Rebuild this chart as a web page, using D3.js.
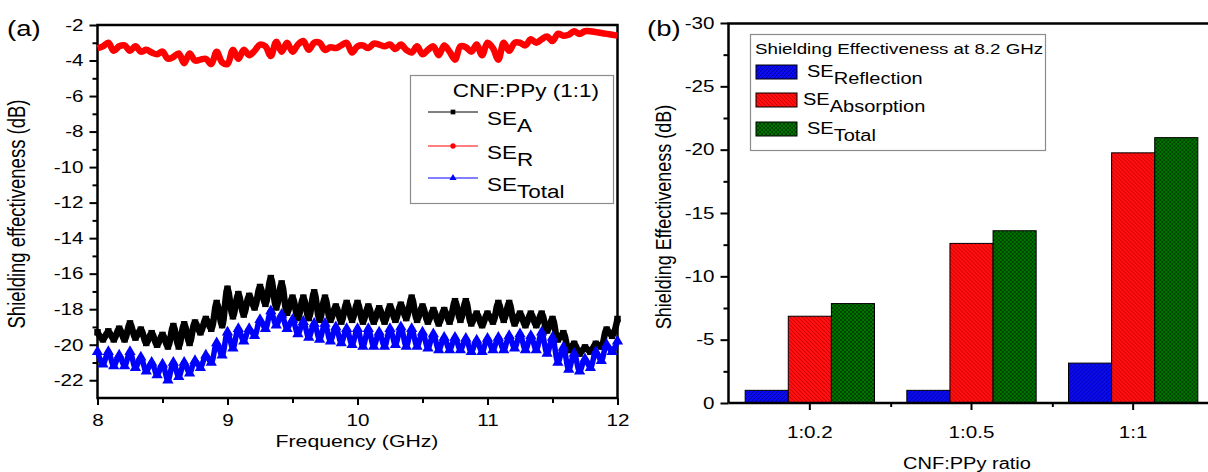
<!DOCTYPE html>
<html>
<head>
<meta charset="utf-8">
<script src="https://cdn.jsdelivr.net/npm/d3@7"></script>
<style>
body { margin: 0; background: #fff; }
svg text { font-family: "Liberation Sans", Arial, sans-serif; fill: #000; }
</style>
</head>
<body>
<svg id="chart"></svg>
<script>
const w = 1208, h = 472;
const sx = 1.25; // the figure text is slightly wide

// (a) SE vs frequency, one reading every 1/24 GHz from 8 to 12 GHz
const freqStart = 8, freqStep = 1 / 24;
const seA = [
  -19.3, -19.7, -19.25, -19.7, -19.1, -19.7, -18.8, -19.6, -19.15, -19.9, -19.35, -20.0,
  -19.45, -20.1, -18.95, -20.1, -18.85, -19.9, -18.75, -19.3, -18.55, -19.1, -17.65, -18.9,
  -16.85, -18.4, -17.15, -18.3, -17.25, -17.9, -16.75, -17.7, -16.25, -17.9, -16.55, -18.2,
  -17.35, -18.5, -17.35, -18.5, -17.05, -18.6, -17.35, -18.6, -17.85, -18.7, -17.65, -18.6,
  -17.65, -18.7, -17.85, -18.7, -17.95, -18.7, -17.85, -18.6, -17.75, -18.5, -17.35, -18.6,
  -17.85, -18.7, -18.05, -18.8, -18.05, -18.7, -17.55, -18.6, -17.55, -18.8, -18.25, -18.9,
  -18.25, -18.7, -17.65, -18.6, -17.65, -18.8, -18.25, -18.9, -18.25, -18.9, -18.25, -19.2,
  -18.55, -19.7, -19.35, -20.3, -19.95, -20.5, -20.15, -20.4, -19.95, -20.1, -19.15, -19.5,
  -18.55
];
const seR = [
  -3.3, -3.2, -3.0, -3.45, -3.2, -3.15, -3.45, -3.2, -3.5, -3.4, -3.55, -3.65,
  -3.5, -3.9, -3.8, -3.6, -4.15, -3.6, -4.0, -3.95, -3.9, -4.2, -3.5, -4.1,
  -4.2, -3.4, -3.9, -3.4, -3.7, -3.45, -3.1, -3.2, -3.75, -2.95, -3.5, -3.0,
  -3.5, -3.1, -2.9, -3.4, -3.0, -3.0, -3.4, -3.25, -3.3, -3.15, -3.0, -3.55,
  -3.2, -3.15, -3.3, -3.05, -3.1, -3.2, -3.1, -3.35, -3.1, -3.4, -3.55, -3.2,
  -3.65, -3.4, -3.2, -3.7, -3.15, -3.5, -3.95, -3.2, -3.25, -3.5, -3.1, -3.7,
  -3.0, -3.3, -3.95, -3.0, -3.45, -3.0, -3.0, -3.15, -2.8, -3.0, -2.8, -2.65,
  -2.9, -2.5, -2.6, -2.55, -2.35, -2.5, -2.35, -2.35, -2.4, -2.45, -2.5, -2.55,
  -2.6
];
const seTotal = [
  -20.4, -21.1, -20.4, -21.2, -20.6, -21.2, -20.4, -21.3, -20.7, -21.5, -21.0, -21.7,
  -21.1, -22.0, -21.0, -21.8, -21.0, -21.6, -20.9, -21.3, -20.6, -21.0, -19.9, -20.6,
  -19.3, -20.2, -19.1, -19.8, -19.1, -19.5, -18.6, -19.1, -18.1, -18.9, -18.3, -19.1,
  -18.6, -19.4, -18.7, -19.6, -18.8, -19.7, -18.8, -19.8, -19.0, -19.9, -19.1, -20.0,
  -19.1, -20.1, -19.1, -20.1, -19.3, -20.1, -19.1, -20.0, -19.0, -20.1, -19.1, -20.1,
  -19.3, -20.2, -19.4, -20.3, -19.6, -20.3, -19.6, -20.3, -19.65, -20.4, -19.75, -20.4,
  -19.65, -20.3, -19.6, -20.3, -19.5, -20.2, -19.4, -20.3, -19.5, -20.3, -19.3, -20.5,
  -19.6, -21.0, -20.15, -21.4, -20.5, -21.5, -20.8, -21.3, -20.4, -20.9, -20.0, -20.4,
  -19.8
];
const freqTicks = [8, 9, 10, 11, 12];
const seTicks = [-2, -4, -6, -8, -10, -12, -14, -16, -18, -20, -22];

// (b) SE at 8.2 GHz per CNF:PPy ratio
const ratios = ['1:0.2', '1:0.5', '1:1'];
const seReflection = [-1.0, -1.0, -3.15];
const seAbsorption = [-6.85, -12.6, -19.75];
const seTotalBar = [-7.85, -13.6, -20.95];
const barTicks = [0, -5, -10, -15, -20, -25, -30];

const freq = seA.map((d, i) => freqStart + i * freqStep);

const svg = d3.select('#chart').attr('width', w).attr('height', h);
const defs = svg.append('defs');

const txt = (g, x, y, s, size, anchor, rot) => g.append('text')
    .attr('transform', `translate(${x},${y}) scale(${sx},1)` + (rot ? ` rotate(${rot})` : ''))
    .attr('font-size', size)
    .attr('text-anchor', anchor || 'start')
    .text(s);

const hatch = (id, bg, fg, paths) => {
    let p = defs.append('pattern').attr('id', id)
        .attr('patternUnits', 'userSpaceOnUse').attr('width', 4).attr('height', 4);
    p.append('rect').attr('width', 4).attr('height', 4).attr('fill', bg);
    paths.forEach(d => p.append('path').attr('d', d).attr('stroke', fg).attr('stroke-width', 0.9));
};
const up = 'M-1,1 L1,-1 M0,4 L4,0 M3,5 L5,3';
const down = 'M-1,3 L1,5 M0,0 L4,4 M3,-1 L5,1';
hatch('hBlue', '#0b0bf0', '#00009a', [up]);
hatch('hRed', '#ff1010', '#c80000', [down]);
hatch('hGreen', '#007800', '#003c00', [up, down]);

/* ---------- (a) ---------- */
const ga = svg.append('g');
const x = d3.scaleLinear().domain([8, 12]).range([97.5, 617.5]);
const y = d3.scaleLinear().domain([-23, -2]).range([398, 25]);

const fixTicks = (sel, dx) => {
    sel.select('.domain').remove();
    sel.selectAll('.tick line').attr('stroke-width', 2);
    sel.selectAll('.tick text').attr('font-size', 16.5).attr('x', 0)
        .attr('transform', `translate(${dx},0) scale(${sx},1)`);
};

ga.append('g').attr('transform', 'translate(97.5,0)')
    .call(d3.axisLeft(y).tickValues(d3.range(-3, -23, -2)).tickSize(5).tickFormat(''))
    .call(s => fixTicks(s, 0));
ga.append('g').attr('transform', 'translate(97.5,0)')
    .call(d3.axisLeft(y).tickValues(seTicks).tickSize(8).tickFormat(d => String(d)))
    .call(s => fixTicks(s, -14));
ga.append('g').attr('transform', 'translate(0,398)')
    .call(d3.axisBottom(x).tickValues([8.5, 9.5, 10.5, 11.5]).tickSize(5).tickFormat(''))
    .call(s => fixTicks(s, 0));
ga.append('g').attr('transform', 'translate(0,398)')
    .call(d3.axisBottom(x).tickValues(freqTicks).tickSize(7).tickPadding(9).tickFormat(d => String(d)))
    .call(s => fixTicks(s, 0));

ga.append('rect').attr('x', 97.5).attr('y', 25).attr('width', 520).attr('height', 373)
    .attr('fill', 'none').attr('stroke', '#000').attr('stroke-width', 2.5);

const line = d3.line().x((d, i) => x(freq[i])).y(d => y(d)).curve(d3.curveCatmullRom);
const series = [
    {vals: seA, color: '#000', width: 6.5, sym: d3.symbolSquare, size: 42},
    {vals: seR, color: '#ff0000', width: 6.5, sym: null},
    {vals: seTotal, color: '#0000ff', width: 5.5, sym: d3.symbolTriangle, size: 55}
];
series.forEach(s => {
    ga.append('path').attr('d', line(s.vals)).attr('fill', 'none')
        .attr('stroke', s.color).attr('stroke-width', s.width).attr('stroke-linejoin', 'round');
    if (s.sym) {
        ga.selectAll(null).data(s.vals).enter().append('path')
            .attr('d', d3.symbol().type(s.sym).size(s.size))
            .attr('transform', (d, i) => `translate(${x(freq[i])},${y(d)})`)
            .attr('fill', s.color);
    }
});

// legend (a)
const la = ga.append('g');
la.append('rect').attr('x', 410.5).attr('y', 75.5).attr('width', 203).attr('height', 128)
    .attr('fill', '#fff').attr('stroke', '#8c8c8c').attr('stroke-width', 1.2);
txt(la, 599, 97, 'CNF:PPy (1:1)', 18, 'end');
const legRows = [
    {y: 112, color: '#000', sym: d3.symbolSquare, sub: 'A'},
    {y: 146, color: '#ff0000', sym: d3.symbolCircle, sub: 'R'},
    {y: 178, color: '#0000ff', sym: d3.symbolTriangle, sub: 'Total'}
];
legRows.forEach(r => {
    la.append('line').attr('x1', 428).attr('x2', 478).attr('y1', r.y).attr('y2', r.y)
        .attr('stroke', r.color).attr('stroke-width', 1);
    la.append('path').attr('d', d3.symbol().type(r.sym).size(22))
        .attr('transform', `translate(453,${r.y})`).attr('fill', r.color);
    let t = txt(la, 487, r.y + 13, 'SE', 18);
    t.append('tspan').attr('dy', 7).attr('font-size', 18).text(r.sub);
});

txt(ga, 7, 36, '(a)', 22);
txt(ga, 357, 447, 'Frequency (GHz)', 17, 'middle');
txt(ga, 25, 214, 'Shielding effectiveness (dB)', 18.5, 'middle', -90);

/* ---------- (b) ---------- */
const gb = svg.append('g');
const xb = d3.scaleBand().domain(ratios).range([729, 1214]);
const keys = ['refl', 'abs', 'tot'];
const xs = d3.scaleBand().domain(keys).range([xb.bandwidth() * 0.1, xb.bandwidth() * 0.9]);
const yb = d3.scaleLinear().domain([0, -30]).range([403, 23]);
const fills = {refl: 'url(#hBlue)', abs: 'url(#hRed)', tot: 'url(#hGreen)'};
const barData = ratios.map((r, i) => ({r, refl: seReflection[i], abs: seAbsorption[i], tot: seTotalBar[i]}));

gb.append('g').attr('transform', 'translate(728.5,0)')
    .call(d3.axisLeft(yb).tickValues(d3.range(-2.5, -30, -5)).tickSize(5).tickFormat(''))
    .call(s => fixTicks(s, 0));
gb.append('g').attr('transform', 'translate(728.5,0)')
    .call(d3.axisLeft(yb).tickValues(barTicks).tickSize(8).tickFormat(d => String(d)))
    .call(s => fixTicks(s, -14));
gb.append('g').attr('transform', 'translate(0,403)')
    .call(d3.axisBottom(xb).tickSize(7).tickPadding(16))
    .call(s => fixTicks(s, 0));
gb.append('g').attr('transform', 'translate(0,403)')
    .call(d3.axisBottom(d3.scaleLinear().domain([0, 3]).range([729, 1214])).tickValues([1, 2]).tickSize(4).tickFormat(''))
    .call(s => fixTicks(s, 0));

gb.selectAll('g.grp').data(barData).enter().append('g').attr('class', 'grp')
    .attr('transform', d => `translate(${xb(d.r)},0)`)
    .selectAll('rect').data(d => keys.map(k => ({k, v: d[k]}))).enter().append('rect')
    .attr('x', d => xs(d.k)).attr('width', xs.bandwidth())
    .attr('y', d => yb(d.v)).attr('height', d => yb(0) - yb(d.v))
    .attr('fill', d => fills[d.k]).attr('stroke', '#000').attr('stroke-width', 1);

gb.append('path').attr('d', 'M728.5,403 V23.5 H1210 M728.5,403 H1210')
    .attr('fill', 'none').attr('stroke', '#000').attr('stroke-width', 2.5);

// legend (b)
const lb = gb.append('g');
lb.append('rect').attr('x', 750.5).attr('y', 34.5).attr('width', 295).attr('height', 116)
    .attr('fill', '#fff').attr('stroke', '#8c8c8c').attr('stroke-width', 1.2);
txt(lb, 755, 54, 'Shielding Effectiveness at 8.2 GHz', 15);
const legB = [
    {y: 65, k: 'refl', sub: 'Reflection', tx: 807},
    {y: 93, k: 'abs', sub: 'Absorption', tx: 803},
    {y: 122, k: 'tot', sub: 'Total', tx: 807}
];
legB.forEach(r => {
    lb.append('rect').attr('x', 756).attr('y', r.y).attr('width', 41).attr('height', 14)
        .attr('fill', fills[r.k]).attr('stroke', '#000').attr('stroke-width', 1);
    let t = txt(lb, r.tx, r.y + 12, 'SE', 16);
    t.append('tspan').attr('dy', 7).text(r.sub);
});

txt(gb, 647, 36, '(b)', 22);
txt(gb, 967, 469, 'CNF:PPy ratio', 16, 'middle');
txt(gb, 671, 217, 'Shielding Effectiveness (dB)', 18, 'middle', -90);
</script>
</body>
</html>
